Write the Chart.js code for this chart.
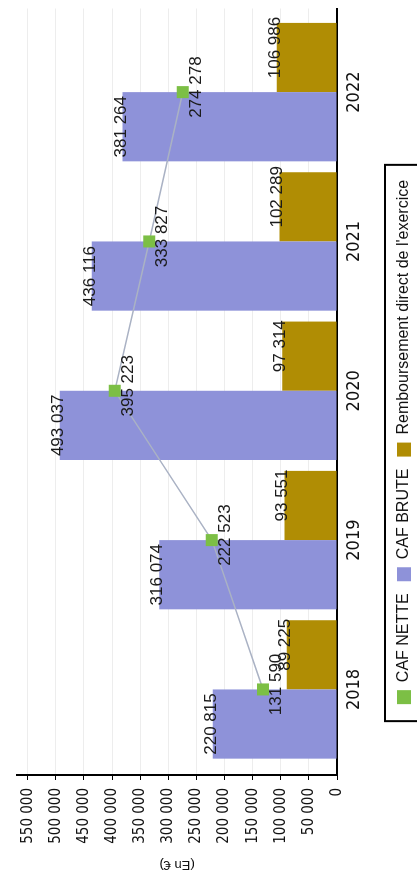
<!DOCTYPE html>
<html lang="fr">
<head>
<meta charset="utf-8">
<title>CAF brute, CAF nette et remboursement</title>
<script src="https://cdn.jsdelivr.net/npm/chart.js@4/dist/chart.umd.min.js"></script>
<style>
  html, body { margin: 0; padding: 0; background: #fff; overflow: hidden; }
  /* le graphique est dessiné à plat puis tourné d'un quart de tour */
  #cadre {
    position: absolute; left: 0; top: 0;
    width: 879px; height: 417px; overflow: hidden;
    transform-origin: 0 0;
    transform: translateY(879px) rotate(-90deg);
  }
</style>
</head>
<body>
<div id="cadre"><canvas id="caf" width="879" height="422"></canvas></div>
<script>
'use strict';

const annees = [2018, 2019, 2020, 2021, 2022];
const cafNette = [131590, 222523, 395223, 333827, 274278];
const cafBrute = [220815, 316074, 493037, 436116, 381264];
const remboursement = [89225, 93551, 97314, 102289, 106986];
const graduations = [0, 50000, 100000, 150000, 200000, 250000, 300000, 350000, 400000, 450000, 500000, 550000];

const VERT = '#7cbf45';
const BLEU = '#8e92d9';
const OR = '#b08d04';
const ETROIT = '"Liberation Sans Narrow", "DejaVu Sans Condensed", "Liberation Sans", sans-serif';
const NORMAL = '"Liberation Sans", Arial, sans-serif';

// 220815 -> "220 815"
function formatNombre(v) {
    return String(v).replace(/\B(?=(\d{3})+(?!\d))/g, ' ');
}

// Valeurs écrites au bout des barres et sous les points
const etiquettes = {
    id: 'etiquettes',
    afterDatasetsDraw(chart) {
        const ctx = chart.ctx;
        ctx.save();
        ctx.font = '17px ' + NORMAL;
        ctx.fillStyle = '#1b1b1b';
        ctx.textAlign = 'center';
        chart.data.datasets.forEach((ds, i) => {
            const meta = chart.getDatasetMeta(i);
            meta.data.forEach((el, j) => {
                const txt = formatNombre(ds.data[j]);
                if (meta.type === 'line') {
                    ctx.textBaseline = 'top';
                    ctx.fillText(txt, el.x + 5, el.y + 5);
                } else {
                    ctx.textBaseline = 'alphabetic';
                    ctx.fillText(txt, el.x + (i === 2 ? 10 : 0), el.y + 3);
                }
            });
        });
        ctx.restore();
    }
};

// Cadre noir autour de la légende
const cadreLegende = {
    id: 'cadreLegende',
    afterDraw(chart) {
        const boites = chart.legend && chart.legend.legendHitBoxes;
        if (!boites || !boites.length) {
            return;
        }
        const ctx = chart.ctx;
        const premiere = boites[0];
        const derniere = boites[boites.length - 1];
        const x0 = premiere.left - 17;
        const x1 = derniere.left + derniere.width + 15;
        const y0 = premiere.top - 11;
        ctx.save();
        ctx.strokeStyle = '#000';
        ctx.lineWidth = 2;
        ctx.strokeRect(x0, y0, x1 - x0, chart.height - y0 + 10);
        ctx.restore();
    }
};

const ctx = document.getElementById('caf');

new Chart(ctx, {
    type: 'bar',
    data: {
        labels: annees,
        datasets: [{
            type: 'line',
            label: 'CAF NETTE',
            data: cafNette,
            borderColor: '#aab2c4',
            borderWidth: 1.5,
            backgroundColor: VERT,
            pointStyle: 'rect',
            pointRadius: 8.5,
            pointBackgroundColor: VERT,
            pointBorderWidth: 0,
            tension: 0
        }, {
            label: 'CAF BRUTE',
            data: cafBrute,
            backgroundColor: BLEU,
            borderWidth: 0,
            barPercentage: 1,
            categoryPercentage: 0.927
        }, {
            label: "Remboursement direct de l'exercice",
            data: remboursement,
            backgroundColor: OR,
            borderWidth: 0,
            barPercentage: 1,
            categoryPercentage: 0.927
        }]
    },
    options: {
        responsive: false,
        animation: false,
        layout: { padding: { top: 10, right: 5, left: 0, bottom: 0 } },
        scales: {
            x: {
                type: 'linear',
                min: 2017.427,
                max: 2022.56,
                offset: false,
                grid: { display: false, drawTicks: false },
                border: { display: true, color: '#000', width: 2 },
                ticks: {
                    stepSize: 1,
                    includeBounds: false,
                    padding: 7,
                    color: '#111',
                    font: { family: ETROIT, size: 18 },
                    callback: v => String(v)
                },
                afterBuildTicks: s => { s.ticks = annees.map(v => ({ value: v })); },
                afterFit: s => { s.height = 47; }
            },
            y: {
                min: 0,
                max: 569000,
                grid: { color: 'rgba(0,0,0,0.07)', tickColor: '#000', tickLength: 5, lineWidth: 1 },
                border: { color: '#000', width: 2 },
                ticks: {
                    stepSize: 50000,
                    maxTicksLimit: 20,
                    includeBounds: false,
                    padding: 8,
                    color: '#111',
                    font: { family: ETROIT, size: 15 },
                    callback: v => formatNombre(v)
                },
                title: {
                    display: true,
                    text: '(En €)',
                    color: '#111',
                    padding: { top: 7, bottom: 0 },
                    font: { family: NORMAL, size: 13 }
                },
                afterBuildTicks: s => { s.ticks = graduations.map(v => ({ value: v })); },
                afterFit: s => { s.width = 104; }
            }
        },
        plugins: {
            legend: {
                position: 'bottom',
                labels: {
                    boxWidth: 14,
                    boxHeight: 14,
                    padding: 12,
                    color: '#111',
                    font: { family: NORMAL, size: 16 },
                    generateLabels: chart => Chart.defaults.plugins.legend.labels.generateLabels(chart)
                        .map(l => Object.assign(l, { strokeStyle: l.fillStyle, lineWidth: 0 }))
                }
            },
            tooltip: { enabled: false }
        }
    },
    plugins: [etiquettes, cadreLegende]
});
</script>
</body>
</html>
